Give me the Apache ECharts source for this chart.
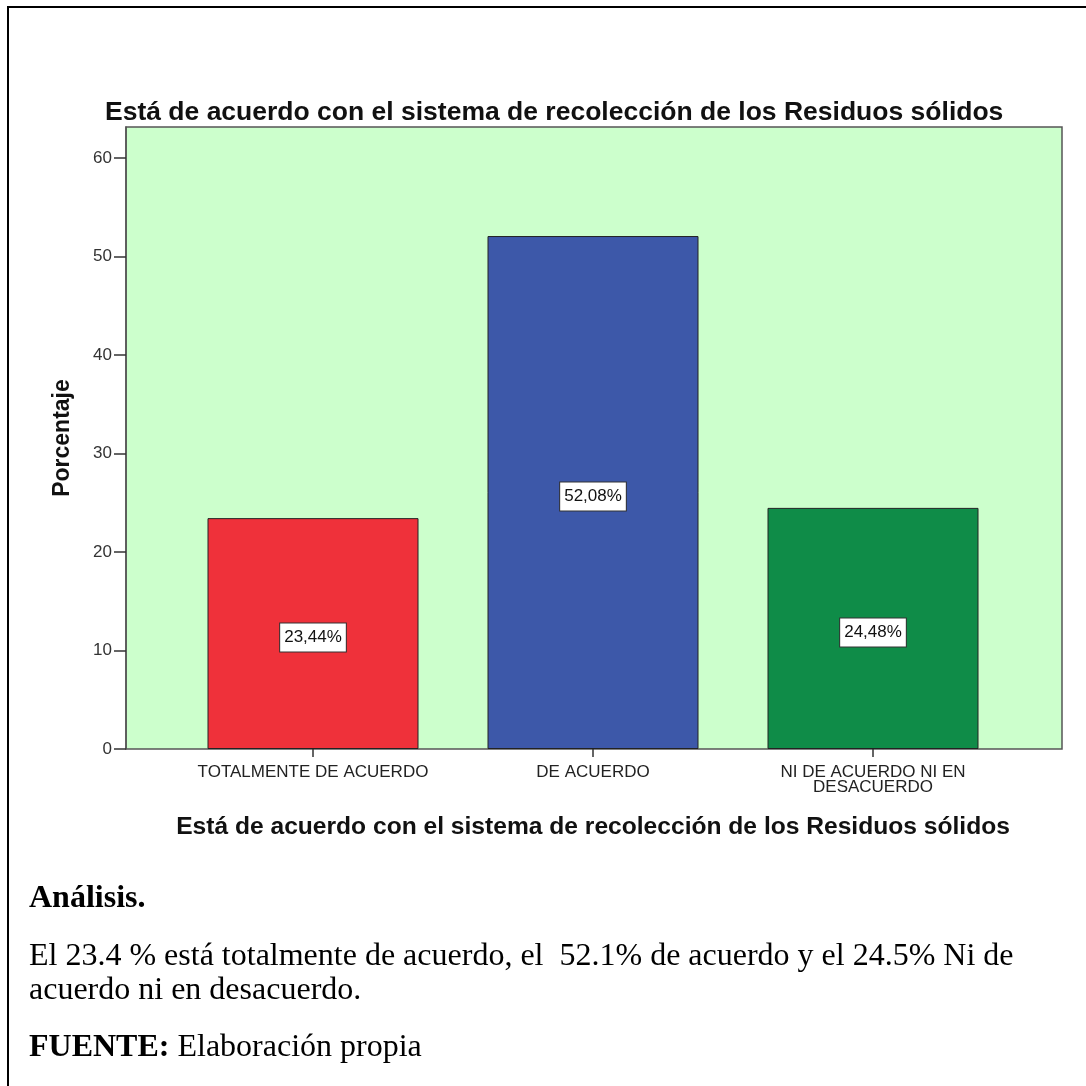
<!DOCTYPE html>
<html lang="es">

<head>
    <meta charset="utf-8">
    <script src="https://cdn.jsdelivr.net/npm/echarts@6/dist/echarts.min.js"></script>
    <style>
        html, body { margin: 0; padding: 0; background: #fff; }
    </style>
</head>

<body>
    <div id="main" style="width: 1086px;height:1086px;"></div>
    <script type="text/javascript">
    // datos del gráfico
    var categorias = ['TOTALMENTE DE ACUERDO', 'DE ACUERDO', 'NI DE ACUERDO NI EN\nDESACUERDO'];
    var porcentajes = [23.44, 52.08, 24.48];
    var colores = ['#ef313a', '#3d58a9', '#0f8c48'];
    var ticksY = [0, 10, 20, 30, 40, 50, 60];

    var titulo = 'Está de acuerdo con el sistema de recolección de los Residuos sólidos';
    var serif = '"Liberation Serif", "Times New Roman", serif';

    var myChart = echarts.init(document.getElementById('main'));
    myChart.setOption({
        animation: false,
        backgroundColor: '#ffffff',
        title: {
            text: titulo,
            left: 100,
            top: 94,
            textStyle: { fontFamily: 'Arial, Liberation Sans', fontSize: 26.5, fontWeight: 'bold', color: '#111' }
        },
        grid: [
            // caja verde con el eje Y
            { left: 126, right: 24, top: 127, bottom: 337, show: true, backgroundColor: '#ccffcc', borderColor: '#555', borderWidth: 1.5 },
            // zona de barras (las categorías van separadas 280px)
            { left: 173, right: 73, top: 127, bottom: 337 }
        ],
        xAxis: [
            { gridIndex: 0, type: 'category', data: categorias, show: false },
            {
                gridIndex: 1,
                type: 'category',
                data: categorias,
                name: titulo,
                nameLocation: 'middle',
                nameGap: 66,
                nameTextStyle: { fontFamily: 'Arial, Liberation Sans', fontSize: 24.6, fontWeight: 'bold', color: '#111' },
                axisLine: { show: false },
                axisTick: { show: true, alignWithLabel: true, length: 8, lineStyle: { color: '#333', width: 1.5 } },
                axisLabel: { interval: 0, margin: 16, fontFamily: 'Arial, Liberation Sans', fontSize: 17, color: '#222', lineHeight: 15 }
            }
        ],
        yAxis: [
            {
                gridIndex: 0,
                type: 'value',
                min: 0,
                max: 63.15,
                interval: 10,
                name: 'Porcentaje',
                nameLocation: 'middle',
                nameGap: 52,
                nameTextStyle: { fontFamily: 'Arial, Liberation Sans', fontSize: 23, fontWeight: 'bold', color: '#111' },
                splitLine: { show: false },
                axisLine: { show: true, lineStyle: { color: '#555', width: 1.5 } },
                axisTick: { show: true, length: 12, customValues: ticksY, lineStyle: { color: '#333', width: 1.5 } },
                axisLabel: { customValues: ticksY, margin: 14, fontFamily: 'Arial, Liberation Sans', fontSize: 17, color: '#333' }
            },
            { gridIndex: 1, type: 'value', min: 0, max: 63.15, show: false, splitLine: { show: false } }
        ],
        series: [{
            type: 'bar',
            xAxisIndex: 1,
            yAxisIndex: 1,
            barWidth: 211,
            data: porcentajes.map(function (v, i) {
                return { value: v, itemStyle: { color: colores[i] } };
            }),
            itemStyle: { borderColor: '#222', borderWidth: 1 },
            label: {
                show: true,
                position: 'inside',
                offset: [0, 4],
                formatter: function (p) { return p.value.toFixed(2).replace('.', ',') + '%'; },
                fontFamily: 'Arial, Liberation Sans',
                fontSize: 17,
                color: '#111',
                backgroundColor: '#fff',
                borderColor: '#333',
                borderWidth: 1,
                padding: [6, 4, 5, 4]
            }
        }],
        graphic: [
            { type: 'line', shape: { x1: 7, y1: 7, x2: 1086, y2: 7 }, style: { stroke: '#000', lineWidth: 2 } },
            { type: 'line', shape: { x1: 8, y1: 7, x2: 8, y2: 1086 }, style: { stroke: '#000', lineWidth: 2 } },
            {
                type: 'text', x: 29, y: 899,
                style: { text: 'Análisis.', font: 'bold 32px ' + serif, fill: '#000', verticalAlign: 'middle' }
            },
            {
                type: 'text', x: 29, y: 957,
                style: {
                    text: 'El 23.4 % está totalmente de acuerdo, el  52.1% de acuerdo y el 24.5% Ni de',
                    font: '32px ' + serif, fill: '#000', verticalAlign: 'middle'
                }
            },
            {
                type: 'text', x: 29, y: 991,
                style: { text: 'acuerdo ni en desacuerdo.', font: '32px ' + serif, fill: '#000', verticalAlign: 'middle' }
            },
            {
                type: 'text', x: 29, y: 1048,
                style: {
                    text: '{b|FUENTE:} Elaboración propia',
                    font: '32px ' + serif,
                    rich: { b: { fontWeight: 'bold', fontFamily: serif, fontSize: 32 } },
                    fill: '#000',
                    verticalAlign: 'middle'
                }
            }
        ]
    });
    </script>
</body>

</html>
